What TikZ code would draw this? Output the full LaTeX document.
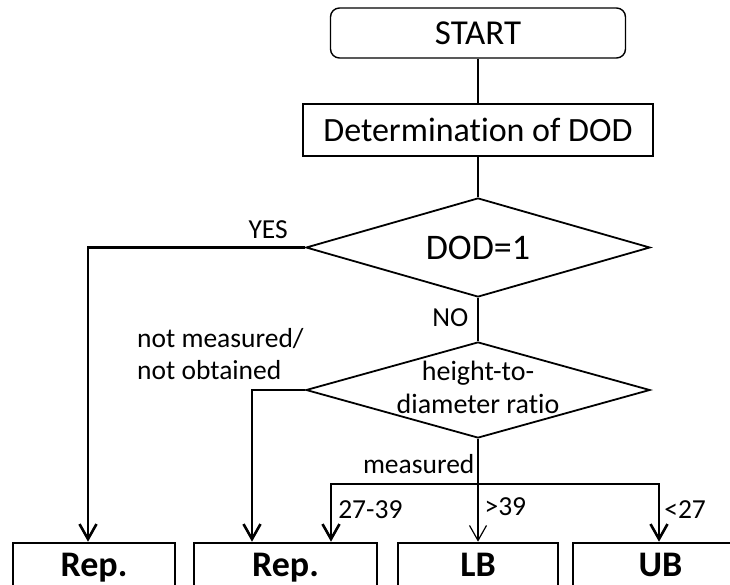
\documentclass[tikz,border=0pt]{standalone}
\usepackage{fontspec}
\setmainfont{Carlito}[Ligatures=NoCommon]
\usetikzlibrary{arrows.meta, positioning, shapes.geometric, calc}

\begin{document}
\begin{tikzpicture}[
		x=1pt, y=-1pt,
		terminal/.style={rectangle, rounded corners=9pt, draw, line width=1.4pt, minimum width=295pt, minimum height=50pt, inner sep=0pt, font=\fontsize{35}{40}\selectfont},
		process/.style={rectangle, draw, line width=1.8pt, minimum width=350pt, minimum height=52pt, inner sep=0pt, font=\fontsize{34}{40}\selectfont},
		decision/.style={diamond, draw, line width=1.8pt, minimum width=344pt, inner sep=0pt},
		result/.style={rectangle, draw, line width=2.6pt, minimum height=48pt, inner sep=0pt, text height=24pt, text depth=6pt, font=\bfseries\fontsize{36}{40}\selectfont},
		bigtxt/.style={font=\fontsize{36}{40}\selectfont},
		midtxt/.style={font=\fontsize{28}{33}\selectfont, align=center},
		msg/.style={font=\fontsize{27.5}{32}\selectfont},
		thinline/.style={line width=1.2pt},
		flow/.style={-{Straight Barb[length=15pt, width=17pt]}, line width=2.6pt},
		thinflow/.style={-{Straight Barb[length=15pt, width=17pt]}, line width=1.2pt}
	]
	
	\useasboundingbox (0,0) rectangle (730,585);
	\clip (0,0) rectangle (730,585);
	
	% Nodes
	\node[terminal] (start) at (478,33) {START};
	\node[process] (det) at (478,130) {Determination of DOD};
	\node[decision, minimum height=99pt] (dod) at (478,247.5) {};
	\node[bigtxt] (dodtxt) at (dod.center) {DOD=1};
	\node[decision, minimum height=96pt] (hdr) at (478,390) {};
	\node[midtxt] (hdrtxt) at ([yshift=3pt]hdr.center) {height-to-\\diameter ratio};
	
	% Results
	\node[result, minimum width=162pt] (repA) at (94,567) {Rep.};
	\node[result, minimum width=183pt] (repB) at (285.5,567) {Rep.};
	\node[result, minimum width=160pt] (lb) at (478,567) {LB};
	\node[result, minimum width=175pt] (ub) at (660.5,567) {UB};
	\coordinate (split) at (478,484);
	
	% Connectors
	\draw[thinline] (start) -- (det);
	\draw[thinline] (det) -- (dod);
	\draw[thinline] (dod) -- node[msg, left, pos=0.45, inner sep=9pt] {NO} (hdr);
	\draw[flow] (dod.west) -| node[msg, above, pos=0.085, inner sep=8pt] {YES} ([xshift=-6pt]repA.north);
	\draw[flow] (hdr.west) -| ([xshift=-33.5pt]repB.north);
	\node[msg, anchor=base west, align=left, inner sep=0pt] (nm) at (137,379) {not measured/\\not obtained};
	\draw[thinline] (hdr.south) -- node[msg, left, pos=0.55, inner sep=3pt] {measured} (split);
	\draw[thinflow] (split) -- node[msg, right, pos=0.4, inner sep=6pt] {>39} (lb.north);
	\draw[flow] (split) -| node[msg, right, pos=0.72, inner sep=6pt] {27-39} ([xshift=45.5pt]repB.north);
	\draw[flow] (split) -| node[msg, right, pos=0.72, inner sep=4pt] {<27} ([xshift=-1.5pt]ub.north);
	
\end{tikzpicture}
\end{document}
